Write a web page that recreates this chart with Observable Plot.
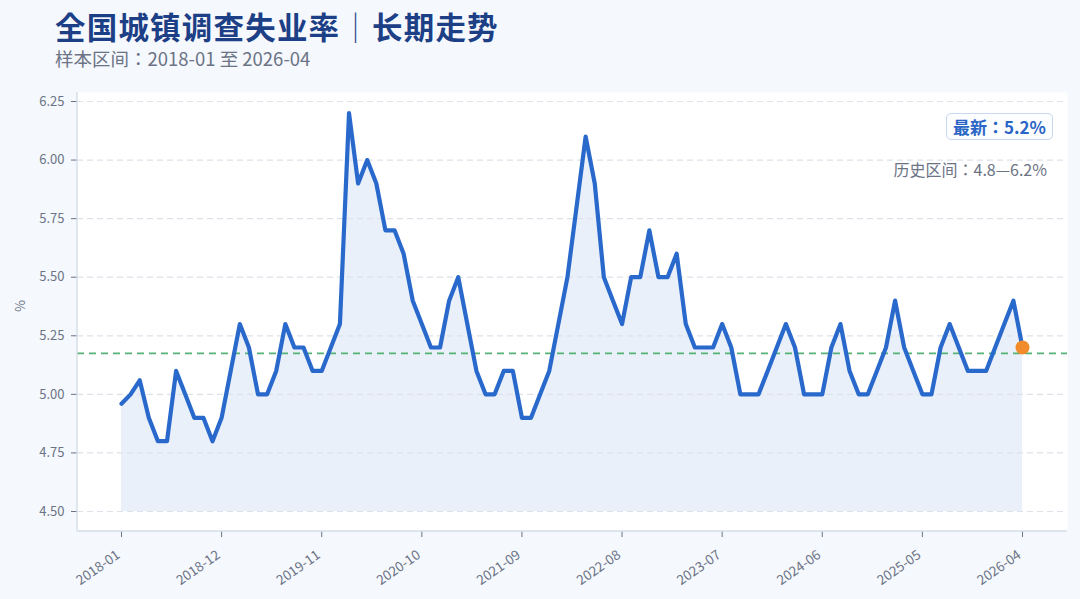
<!DOCTYPE html>
<html>
<head>
<meta charset="utf-8">
<script src="https://cdn.jsdelivr.net/npm/d3@7"></script>
<script src="https://cdn.jsdelivr.net/npm/@observablehq/plot@0.6"></script>
<style>
  html, body { margin: 0; padding: 0; background: #f5f8fd; }
  body { width: 1080px; height: 599px; position: relative; overflow: hidden;
         font-family: "Noto Sans CJK JP", "Noto Sans CJK SC", "Noto Sans", sans-serif; }
  #title { position: absolute; left: 55px; top: 10px; font-size: 30.5px; font-weight: 700;
           color: #1c3f86; letter-spacing: 1.2px; line-height: 32px; white-space: nowrap; }
  #title .sep { font-weight: 300; color: #1c3f86; }
  #subtitle { position: absolute; left: 55px; top: 48px; font-size: 18.5px; color: #6b7385;
              line-height: 20px; white-space: nowrap; }
  #chart { position: absolute; left: 0; top: 80px; }
  #latest { position: absolute; right: 27px; top: 113px; height: 25px; line-height: 25px;
            padding: 0 6px; border: 1.5px solid #c9d8f0; border-radius: 5px; background: #fbfdff;
            font-size: 17px; font-weight: 700; color: #2a66c6; white-space: nowrap; }
  #range { position: absolute; right: 33px; top: 158px; font-size: 16px; line-height: 22px;
           color: #6b7385; white-space: nowrap; }
</style>
</head>
<body>
<div id="title">全国城镇调查失业率<span class="sep">｜</span>长期走势</div>
<div id="subtitle">样本区间：2018-01 至 2026-04</div>
<div id="chart"></div>
<div id="latest"></div>
<div id="range"></div>
<script>
// ---- data ----
const startMonth = "2018-01";
const values = [
  4.96, 5.0, 5.06, 4.9, 4.8, 4.8, 5.1, 5.0, 4.9, 4.9, 4.8, 4.9,
  5.1, 5.3, 5.2, 5.0, 5.0, 5.1, 5.3, 5.2, 5.2, 5.1, 5.1, 5.2,
  5.3, 6.2, 5.9, 6.0, 5.9, 5.7, 5.7, 5.6, 5.4, 5.3, 5.2, 5.2,
  5.4, 5.5, 5.3, 5.1, 5.0, 5.0, 5.1, 5.1, 4.9, 4.9, 5.0, 5.1,
  5.3, 5.5, 5.8, 6.1, 5.9, 5.5, 5.4, 5.3, 5.5, 5.5, 5.7, 5.5,
  5.5, 5.6, 5.3, 5.2, 5.2, 5.2, 5.3, 5.2, 5.0, 5.0, 5.0, 5.1,
  5.2, 5.3, 5.2, 5.0, 5.0, 5.0, 5.2, 5.3, 5.1, 5.0, 5.0, 5.1,
  5.2, 5.4, 5.2, 5.1, 5.0, 5.0, 5.2, 5.3, 5.2, 5.1, 5.1, 5.1,
  5.2, 5.3, 5.4, 5.2
];
const refLine = 5.175;              // green dashed reference level
const areaBase = 4.5;               // baseline of the shaded area
const yTicks = [4.5, 4.75, 5.0, 5.25, 5.5, 5.75, 6.0, 6.25];
const xTickLabels = ["2018-01", "2018-12", "2019-11", "2020-10", "2021-09",
                     "2022-08", "2023-07", "2024-06", "2025-05", "2026-04"];

// ---- derived ----
const parse = d3.utcParse("%Y-%m");
const fmt = d3.utcFormat("%Y-%m");
const months = d3.utcMonth.range(parse(startMonth), d3.utcMonth.offset(parse(startMonth), values.length)).map(fmt);
const data = values.map((v, i) => ({i, month: months[i], v}));
const xTickIdx = xTickLabels.map(l => months.indexOf(l));
const last = data[data.length - 1];

const W = 1080, H = 519, mL = 77, mR = 13, mT = 12, mB = 68;
const gray = "#6b7385";
const font = '"Noto Sans CJK JP", "Noto Sans CJK SC", "Noto Sans", sans-serif';

const chart = Plot.plot({
  width: W, height: H,
  marginLeft: mL, marginRight: mR, marginTop: mT, marginBottom: mB,
  style: {fontFamily: font, background: "transparent", overflow: "visible"},
  x: {type: "linear", domain: [0, values.length - 1], insetLeft: 44, insetRight: 45},
  y: {domain: [4.5, 6.25], insetTop: 9, insetBottom: 20},
  marks: [
    Plot.frame({fill: "white", stroke: null}),
    Plot.areaY(data, {x: "i", y1: areaBase, y2: "v", fill: "#e9f0fa"}),
    Plot.gridY({ticks: yTicks, stroke: "#dde2ea", strokeOpacity: 1, strokeWidth: 1.2, strokeDasharray: "6,4"}),
    Plot.ruleY([refLine], {stroke: "#55b176", strokeWidth: 1.8, strokeDasharray: "7,5"}),
    Plot.lineY(data, {x: "i", y: "v", stroke: "#2a69cc", strokeWidth: 4.2, strokeLinejoin: "round", strokeLinecap: "round"}),
    Plot.dot([last], {x: "i", y: "v", r: 7, fill: "#f28b2b", stroke: null}),
    Plot.axisY({ticks: yTicks, tickFormat: d => d.toFixed(2), tickSize: 6, tickPadding: 7,
                fontSize: 13, color: gray, label: null}),
    Plot.axisX({ticks: xTickIdx, tickFormat: () => "", tickSize: 6, color: gray, label: null}),
    Plot.text(xTickIdx, {x: d => d, frameAnchor: "bottom", text: i => months[i], rotate: -35,
                         textAnchor: "end", lineAnchor: "middle", dx: -3, dy: 22,
                         fontSize: 13.5, fill: gray}),
    Plot.text(["%"], {frameAnchor: "left", dx: -57, rotate: -90, fontSize: 13, fill: gray})
  ]
});

// left and bottom borders of the plotting frame
const svg = d3.select(chart);
svg.append("line").attr("x1", mL).attr("x2", mL).attr("y1", mT).attr("y2", H - mB)
   .attr("stroke", "#d3dcea").attr("stroke-width", 1.3);
svg.append("line").attr("x1", mL).attr("x2", W - mR).attr("y1", H - mB).attr("y2", H - mB)
   .attr("stroke", "#d3dcea").attr("stroke-width", 1.3);

document.getElementById("chart").appendChild(chart);
document.getElementById("latest").textContent = `最新：${last.v.toFixed(1)}%`;
document.getElementById("range").textContent =
  `历史区间：${d3.min(values).toFixed(1)}—${d3.max(values).toFixed(1)}%`;
</script>
</body>
</html>
